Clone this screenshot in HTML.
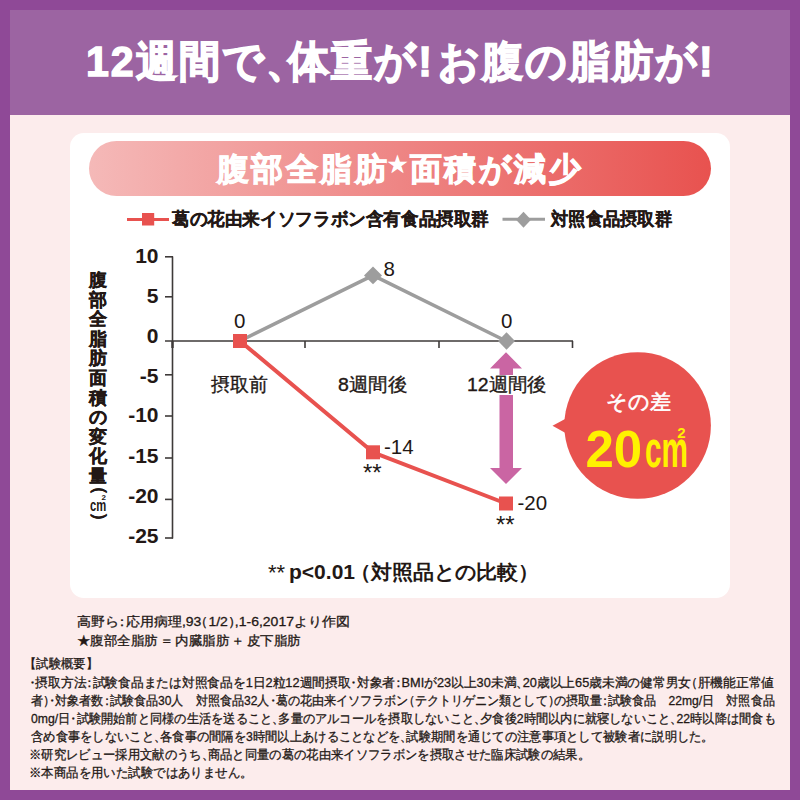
<!DOCTYPE html>
<html><head><meta charset="utf-8">
<style>
*{margin:0;padding:0;box-sizing:border-box}
html,body{width:800px;height:800px;overflow:hidden}
body{background:#8f4997;font-family:"Liberation Sans",sans-serif;color:#231815;position:relative}
.abs{position:absolute;white-space:nowrap}
.f{transform-origin:0 50%}
#hdr{left:10px;top:10px;width:780px;height:105px;background:#9c64a2}
#pnl{left:10px;top:115px;width:780px;height:675px;background:#fcecec}
#card{left:70px;top:133px;width:660px;height:465.3px;background:#fff;border-radius:14px}
#pill{left:89px;top:141px;width:622px;height:55px;border-radius:28px;background:linear-gradient(90deg,#f5b9b8 0%,#ee8584 50%,#e8524f 100%)}
#title{left:86px;top:33px;font-size:43px;font-weight:bold;color:#fff;line-height:56px;letter-spacing:2px;-webkit-text-stroke:1.4px #fff}
#ptitle{left:215px;top:142px;font-size:32px;font-weight:bold;color:#fff;line-height:46px;letter-spacing:2.5px;-webkit-text-stroke:1px #fff}
.leg{font-size:17.5px;font-weight:bold;line-height:22px;-webkit-text-stroke:.3px #231815}
.s{font-size:13px;line-height:18px;-webkit-text-stroke:.3px #231815}
.o{margin-left:-.5em}
.c{margin-right:-.5em}
.m{margin:0 -.25em}
.ml{margin-left:-.25em}
svg{position:absolute;left:0;top:0}
.yl{font-size:21px;font-weight:bold;line-height:20px;width:48px;text-align:right;left:110.5px}
.xl{font-size:19px;line-height:20px;-webkit-text-stroke:.35px #231815}
.v{font-size:20.5px;-webkit-text-stroke:0}
.st{font-size:24px;line-height:24px;-webkit-text-stroke:0}
.vt{left:89px;width:18px;font-size:17.5px;font-weight:bold;line-height:20px;text-align:center;-webkit-text-stroke:.4px #231815}
</style></head><body>
<div class="abs" id="hdr"></div>
<div class="abs" id="pnl"></div>
<div class="abs" id="card"></div>
<div class="abs" id="pill"></div>
<div class="abs f" id="title" style="left:86.1px;transform:scaleX(0.9568)">12週間で<span class="c">、</span>体重が<span style="letter-spacing:6px">!</span>お腹の脂肪が!</div>
<div class="abs f" id="ptitle" style="left:217.0px;transform:scaleX(0.9973)">腹部全脂肪<span style="font-size:19px;vertical-align:9px;letter-spacing:4px">★</span>面積が減少</div>

<div class="abs leg f" id="leg1" style="left:172.0px;top:207.7px;transform:scaleX(0.9784)">葛の花由来イソフラボン含有食品摂取群</div>
<div class="abs leg f" id="leg2" style="left:551.0px;top:207.7px;transform:scaleX(0.9603)">対照食品摂取群</div>

<svg width="800" height="800" viewBox="0 0 800 800">
  <!-- legend markers -->
  <line x1="127" y1="219.5" x2="169" y2="219.5" stroke="#e8524f" stroke-width="3"/>
  <rect x="142" y="213" width="12.2" height="12.5" fill="#e8524f"/>
  <line x1="502.5" y1="219.2" x2="545" y2="219.2" stroke="#9d9d9d" stroke-width="3"/>
  <polygon points="523.5,211.7 531,219.7 523.5,227.7 516,219.7" fill="#9d9d9d"/>
  <!-- axes -->
  <g stroke="#3e3a39" stroke-width="1.6" fill="none">
    <line x1="172.5" y1="256.5" x2="172.5" y2="538.5"/>
    <line x1="165" y1="256.8" x2="173" y2="256.8"/>
    <line x1="165" y1="296.8" x2="173" y2="296.8"/>
    <line x1="165" y1="341" x2="573" y2="341"/>
    <line x1="165" y1="374.8" x2="173" y2="374.8"/>
    <line x1="165" y1="416" x2="173" y2="416"/>
    <line x1="165" y1="458" x2="173" y2="458"/>
    <line x1="165" y1="499.4" x2="173" y2="499.4"/>
    <line x1="165" y1="538" x2="173" y2="538"/>
    <line x1="305" y1="341" x2="305" y2="348"/>
    <line x1="439" y1="341" x2="439" y2="348"/>
    <line x1="572.5" y1="341" x2="572.5" y2="348"/>
  </g>
  <line x1="172.5" y1="341" x2="172.5" y2="348" stroke="#3e3a39" stroke-width="2.4"/>
  <!-- gray series -->
  <polyline points="240,341 373,275.4 506,341" fill="none" stroke="#9d9d9d" stroke-width="3.6" stroke-linejoin="round"/>
  <polygon points="373,266.5 382,275.4 373,284.3 364,275.4" fill="#9d9d9d"/>
  <polygon points="506.5,332.2 515,341 506.5,349.8 498,341" fill="#9d9d9d"/>
  <!-- red series -->
  <polyline points="240,341 373,452.3 506,503.5" fill="none" stroke="#e8524f" stroke-width="4" stroke-linejoin="round"/>
  <rect x="233" y="334" width="14" height="14" fill="#e8524f"/>
  <rect x="366" y="445.3" width="14" height="14" fill="#e8524f"/>
  <rect x="499" y="496.5" width="14" height="14" fill="#e8524f"/>
  <!-- pink double arrow -->
  <polygon points="506,352.3 522,368.5 513,368.5 513,468 522,468 506,484 490,468 499.5,468 499.5,368.5 490,368.5" fill="#ca65a3"/>
  <!-- callout -->
  <circle cx="637.6" cy="425.5" r="73.3" fill="#e8524f"/>
  <polygon points="552.5,425.8 566,418.6 566,433.3" fill="#e8524f"/>
</svg>

<!-- y axis labels -->
<div class="abs yl" style="top:246px">10</div>
<div class="abs yl" style="top:286px">5</div>
<div class="abs yl" style="top:325.5px">0</div>
<div class="abs yl" style="top:365.5px">-5</div>
<div class="abs yl" style="top:405px">-10</div>
<div class="abs yl" style="top:445.5px">-15</div>
<div class="abs yl" style="top:485.5px">-20</div>
<div class="abs yl" style="top:525.5px">-25</div>

<!-- y axis title vertical -->
<div class="abs vt" style="top:270px">腹</div>
<div class="abs vt" style="top:289.6px">部</div>
<div class="abs vt" style="top:309.2px">全</div>
<div class="abs vt" style="top:328.8px">脂</div>
<div class="abs vt" style="top:348.4px">肪</div>
<div class="abs vt" style="top:368px">面</div>
<div class="abs vt" style="top:387.6px">積</div>
<div class="abs vt" style="top:407.2px">の</div>
<div class="abs vt" style="top:426.8px">変</div>
<div class="abs vt" style="top:446.4px">化</div>
<div class="abs vt" style="top:466px">量</div>
<div class="abs vt" style="top:475.5px;left:90.5px;transform:rotate(90deg)">（</div>
<div class="abs" id="cm2" style="left:90px;top:497px;font-size:17px;font-weight:bold;line-height:18px;transform:scaleX(.66);transform-origin:0 0">cm</div>
<div class="abs" style="left:101.5px;top:493px;font-size:8px;font-weight:bold;line-height:9px">2</div>
<div class="abs vt" style="top:510.5px;left:90.5px;transform:rotate(90deg)">）</div>

<!-- x labels -->
<div class="abs xl f" id="x1" style="left:211.0px;top:375px;transform:scaleX(0.9964)">摂取前</div>
<div class="abs xl f" id="x2" style="left:337.8px;top:375px;transform:scaleX(1.0273)">8週間後</div>
<div class="abs xl f" id="x3" style="left:466.5px;top:375px;background:#fff;padding-right:2px;transform:scaleX(1.0223)">12週間後</div>
<div class="abs xl v" style="left:234px;top:311px">0</div>
<div class="abs xl v" style="left:383.5px;top:259px">8</div>
<div class="abs xl v" style="left:501px;top:311px">0</div>
<div class="abs xl v" style="left:384px;top:436.5px">-14</div>
<div class="abs xl v" style="left:517.5px;top:492.5px">-20</div>
<div class="abs xl st" style="left:363px;top:461px">**</div>
<div class="abs xl st" style="left:496px;top:512.5px">**</div>

<!-- callout text -->
<div class="abs" style="left:606px;top:389px;font-size:21px;color:#fff;line-height:26px;letter-spacing:0px;-webkit-text-stroke:.6px #fff">その差</div>
<div class="abs" id="n20" style="left:585.5px;top:422px;font-size:51px;font-weight:bold;color:#fff100;line-height:56px">20</div>
<div class="abs" id="ncm" style="left:644.5px;top:421px;font-size:52px;font-weight:bold;color:#fff100;line-height:56px;transform:scaleX(.5725);transform-origin:0 0">cm</div>
<div class="abs" id="nsq" style="left:677.3px;top:425px;font-size:15px;font-weight:bold;color:#fff100;line-height:16px">2</div>

<!-- p value -->
<div class="abs" id="pst" style="left:268px;top:561px;font-size:22px;line-height:24px">**</div>
<div class="abs f" id="pval" style="left:288.8px;top:559px;font-size:20px;font-weight:bold;line-height:26px;transform:scaleX(1.0507)">p&lt;0.01 <span class="o">（</span>対照品との比較<span class="c">）</span></div>

<!-- source -->
<div class="abs s f" id="src1" style="left:76.7px;top:613px;transform:scaleX(1.0762)">高野ら<span class="m">：</span>応用病理,93<span class="o">（</span>1/2<span class="c">）</span>,1-6,2017より作図</div>
<div class="abs s f" id="src2" style="left:76.7px;top:631.5px;transform:scaleX(1.0363)">★腹部全脂肪<span style="margin:0 2px">＝</span>内臓脂肪<span style="margin:0 2px">＋</span>皮下脂肪</div>

<!-- details -->
<div class="abs s f" id="d0" style="left:30.1px;top:655px;transform:scaleX(0.9516)"><span class="o">【</span>試験概要<span class="c">】</span></div>
<div class="abs s f" id="d1" style="left:29.1px;top:674px;transform:scaleX(0.9805)"><span class="m">・</span>摂取方法<span class="m">：</span>試験食品または対照食品を1日2粒12週間摂取<span class="m">・</span>対象者<span class="m">：</span>BMIが23以上30未満<span class="c">、</span>20歳以上65歳未満の健常男女<span class="o">（</span>肝機能正常値</div>
<div class="abs s f" id="d2" style="left:31.0px;top:692px;transform:scaleX(0.9302)">者<span class="c">）</span><span class="m">・</span>対象者数<span class="m">：</span>試験食品30人　対照食品32人<span class="m">・</span>葛の花由来イソフラボン<span class="o">（</span>テクトリゲニン類として<span class="c">）</span>の摂取量<span class="m">：</span>試験食品　22mg/日　対照食品</div>
<div class="abs s f" id="d3" style="left:31.0px;top:710px;transform:scaleX(0.9408)">0mg/日<span class="m">・</span>試験開始前と同様の生活を送ること<span class="c">、</span>多量のアルコールを摂取しないこと<span class="c">、</span>夕食後2時間以内に就寝しないこと<span class="c">、</span>22時以降は間食も</div>
<div class="abs s f" id="d4" style="left:31.0px;top:728px;transform:scaleX(0.9452)">含め食事をしないこと<span class="c">、</span>各食事の間隔を3時間以上あけることなどを<span class="c">、</span>試験期間を通じての注意事項として被験者に説明した<span class="c">。</span></div>
<div class="abs s f" id="d5" style="left:29.1px;top:746px;transform:scaleX(0.9482)">※研究レビュー採用文献のうち<span class="c">、</span>商品と同量の葛の花由来イソフラボンを摂取させた臨床試験の結果<span class="c">。</span></div>
<div class="abs s f" id="d6" style="left:29.1px;top:764px;transform:scaleX(0.9548)">※本商品を用いた試験ではありません<span class="c">。</span></div>
</body></html>
